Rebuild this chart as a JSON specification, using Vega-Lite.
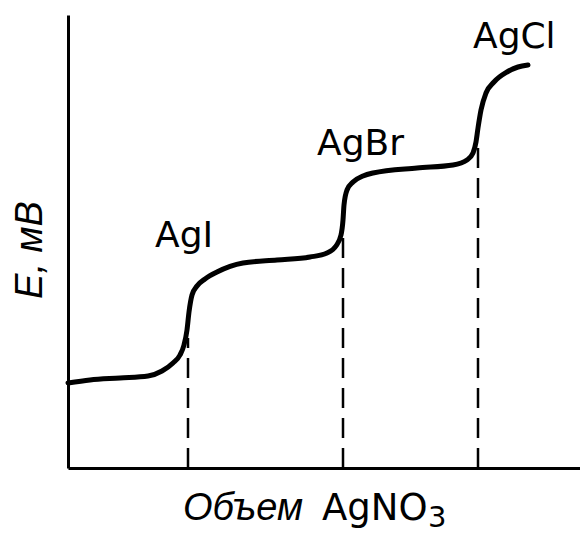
{
  "$schema": "https://vega.github.io/schema/vega-lite/v6.json",
  "width": 512,
  "height": 453,
  "autosize": {"type": "none"},
  "padding": {"left": 68, "top": 15, "right": 0, "bottom": 65},
  "background": "white",
  "config": {"view": {"stroke": null}, "font": "DejaVu Sans"},
  "layer": [
    {
      "data": {"values": [
        {"x": 0, "y": 85}, {"x": 22, "y": 88}, {"x": 52, "y": 90}, {"x": 80, "y": 92},
        {"x": 94, "y": 97}, {"x": 105, "y": 105}, {"x": 112, "y": 113}, {"x": 116, "y": 123},
        {"x": 119, "y": 138}, {"x": 121, "y": 156}, {"x": 124, "y": 173}, {"x": 129, "y": 182},
        {"x": 137, "y": 189}, {"x": 149, "y": 196}, {"x": 175, "y": 205}, {"x": 209, "y": 208},
        {"x": 242, "y": 211}, {"x": 259, "y": 215}, {"x": 268, "y": 222}, {"x": 273, "y": 233},
        {"x": 275, "y": 248}, {"x": 276, "y": 263}, {"x": 279, "y": 278}, {"x": 285, "y": 286},
        {"x": 295, "y": 292}, {"x": 305, "y": 295}, {"x": 349, "y": 300}, {"x": 385, "y": 303},
        {"x": 399, "y": 308}, {"x": 405, "y": 315}, {"x": 408, "y": 326}, {"x": 410, "y": 340},
        {"x": 413, "y": 358}, {"x": 418, "y": 375}, {"x": 426, "y": 386}, {"x": 439, "y": 396},
        {"x": 450, "y": 401}, {"x": 460, "y": 403}
      ]},
      "mark": {"type": "line", "color": "black", "strokeWidth": 5, "strokeCap": "round", "interpolate": "monotone"},
      "encoding": {
        "x": {"field": "x", "type": "quantitative", "scale": {"domain": [0, 512], "nice": false},
              "axis": {"title": null, "labels": false, "ticks": false, "grid": false, "domainColor": "black", "domainWidth": 3}},
        "y": {"field": "y", "type": "quantitative", "scale": {"domain": [0, 453], "nice": false},
              "axis": {"title": null, "labels": false, "ticks": false, "grid": false, "domainColor": "black", "domainWidth": 3}}
      }
    },
    {
      "data": {"values": [
        {"x": 120, "y0": 0, "y1": 130},
        {"x": 275, "y0": 0, "y1": 232},
        {"x": 410, "y0": 0, "y1": 320}
      ]},
      "mark": {"type": "rule", "color": "black", "strokeWidth": 2.5, "strokeDash": [20, 10]},
      "encoding": {
        "x": {"field": "x", "type": "quantitative"},
        "y": {"field": "y0", "type": "quantitative"},
        "y2": {"field": "y1"}
      }
    },
    {
      "data": {"values": [
        {"x": 87, "y": 221, "t": "AgI"},
        {"x": 249, "y": 313, "t": "AgBr"},
        {"x": 405, "y": 420, "t": "AgCl"}
      ]},
      "mark": {"type": "text", "align": "left", "baseline": "alphabetic", "fontSize": 36, "color": "black"},
      "encoding": {
        "x": {"field": "x", "type": "quantitative"},
        "y": {"field": "y", "type": "quantitative"},
        "text": {"field": "t"}
      }
    },
    {
      "data": {"values": [{"x": 254, "y": -52, "t": "AgNO"}]},
      "mark": {"type": "text", "align": "left", "baseline": "alphabetic", "fontSize": 37, "color": "black"},
      "encoding": {
        "x": {"field": "x", "type": "quantitative"},
        "y": {"field": "y", "type": "quantitative"},
        "text": {"field": "t"}
      }
    },
    {
      "data": {"values": [{"x": 360, "y": -59, "t": "3"}]},
      "mark": {"type": "text", "align": "left", "baseline": "alphabetic", "fontSize": 29, "color": "black"},
      "encoding": {
        "x": {"field": "x", "type": "quantitative"},
        "y": {"field": "y", "type": "quantitative"},
        "text": {"field": "t"}
      }
    },
    {
      "data": {"values": [{"x": 115, "y": -52, "t": "Объем"}]},
      "mark": {"type": "text", "align": "left", "baseline": "alphabetic", "font": "Liberation Sans", "fontSize": 38, "fontStyle": "italic", "color": "black"},
      "encoding": {
        "x": {"field": "x", "type": "quantitative"},
        "y": {"field": "y", "type": "quantitative"},
        "text": {"field": "t"}
      }
    },
    {
      "data": {"values": [{"x": -37, "y": 218, "t": "E, мВ"}]},
      "mark": {"type": "text", "align": "center", "baseline": "middle", "angle": 270, "font": "Liberation Sans", "fontSize": 38, "fontStyle": "italic", "color": "black"},
      "encoding": {
        "x": {"field": "x", "type": "quantitative"},
        "y": {"field": "y", "type": "quantitative"},
        "text": {"field": "t"}
      }
    }
  ]
}
